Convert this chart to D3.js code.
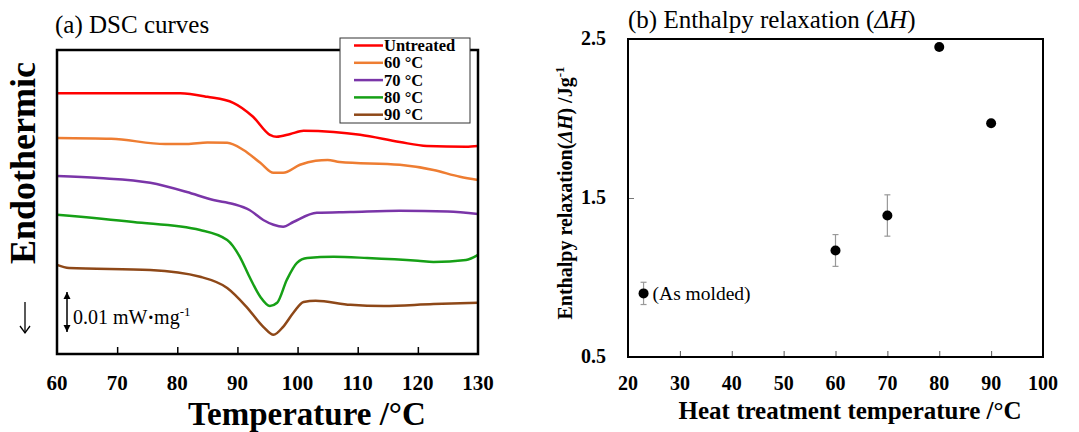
<!DOCTYPE html>
<html>
<head>
<meta charset="utf-8">
<script src="https://cdn.jsdelivr.net/npm/d3@7"></script>
<style>
  body { margin: 0; background: #fff; }
  svg { font-family: 'Liberation Serif', 'DejaVu Serif', serif; }
</style>
</head>
<body>
<svg id="chart" width="1079" height="432"></svg>
<script>
// ---- data: (a) DSC curves, heat flow in 10^-3 mW/mg (offset per curve)
let dscTemps = {
  untreated: [60, 80.5, 85, 89.3, 92.6, 95.4, 96.5, 98.8, 101, 106, 110.4, 117, 121.5, 128, 130],
  t60: [60, 69, 78, 81.6, 85, 88.3, 91, 93.8, 96, 97.6, 100.4, 103, 105, 107, 117, 122.6, 127, 130],
  t70: [60, 67, 75.5, 81.6, 86, 89.3, 92, 94.3, 96, 97.6, 99.3, 103.2, 108.8, 117, 125, 130],
  t80: [60, 72.7, 83.8, 88.3, 90.4, 92, 93.8, 95.4, 96.6, 98.2, 99.9, 101.6, 106, 111.6, 120, 122.6, 128, 130],
  t90: [60, 62, 75.5, 83.8, 88.3, 91.5, 94.3, 96, 97.6, 99.3, 101, 103, 108.8, 114.3, 122.6, 130]
}
let dscFlow = {
  untreated: [65.2, 65.2, 64.3, 62.8, 59.3, 54.8, 54.3, 55.0, 55.8, 55.5, 54.8, 53.0, 52.0, 51.8, 52.0],
  t60: [54.0, 53.8, 52.5, 52.5, 52.9, 52.8, 51.0, 47.8, 45.3, 45.3, 47.3, 48.3, 48.5, 48.0, 47.3, 46.0, 44.3, 43.5],
  t70: [44.5, 44.0, 42.8, 40.5, 38.5, 37.5, 36.0, 33.5, 32.3, 31.8, 33.0, 35.3, 35.5, 35.8, 35.6, 35.0],
  t80: [34.8, 33.0, 31.0, 28.5, 24.3, 19.3, 14.3, 12.0, 12.8, 18.5, 22.8, 24.0, 24.3, 24.0, 23.3, 23.0, 23.5, 24.8],
  t90: [22.3, 21.5, 21.0, 19.3, 16.5, 11.8, 6.8, 4.8, 6.8, 10.3, 13.0, 13.3, 12.3, 12.0, 12.5, 12.8]
}
let seriesKeys = ['untreated', 't60', 't70', 't80', 't90']
let seriesNames = ['Untreated', '60 °C', '70 °C', '80 °C', '90 °C']
let seriesColors = ['#ff0000', '#ee7d32', '#7a35a8', '#16a016', '#8e4818']
let dscTicks = [60, 70, 80, 90, 100, 110, 120, 130]

// ---- data: (b) enthalpy relaxation
let heatTemps = [23, 60, 70, 80, 90]
let deltaH = [0.90, 1.17, 1.39, 2.45, 1.97]
let deltaHErr = [0.07, 0.10, 0.13, 0, 0]
let bTicksX = [20, 30, 40, 50, 60, 70, 80, 90, 100]
let bTicksY = [0.5, 1.5, 2.5]

let svg = d3.select('#chart')

//----------------- panel (a)
let a = { left: 57, right: 478, top: 50, bottom: 354 }
let xA = d3.scaleLinear().domain([60, 130]).range([a.left, a.right])
// 0.01 mW/mg = 40 px
let yA = d3.scaleLinear().domain([0, 76]).range([a.bottom, a.top])

let lineA = d3.line()
  .x(d => xA(d[0]))
  .y(d => yA(d[1]))
  .curve(d3.curveMonotoneX)

seriesKeys.forEach((k, i) => {
  let pts = dscTemps[k].map((t, j) => [t, dscFlow[k][j]])
  svg.append('path')
    .attr('d', lineA(pts))
    .attr('fill', 'none')
    .attr('stroke', seriesColors[i])
    .attr('stroke-width', 2.5)
})

// axis with inward ticks
let axA = svg.append('g')
  .attr('transform', 'translate(0,' + a.bottom + ')')
  .call(d3.axisTop(xA).tickValues(dscTicks.slice(1, -1)).tickSize(7).tickFormat(''))
axA.select('.domain').remove()
axA.selectAll('line').attr('stroke', '#000').attr('stroke-width', 1.5)

svg.append('g')
  .selectAll('text')
  .data(dscTicks)
  .join('text')
  .attr('x', d => xA(d))
  .attr('y', a.bottom + 36)
  .attr('text-anchor', 'middle')
  .attr('font-size', 21)
  .attr('font-weight', 'bold')
  .text(d => d)

svg.append('rect')
  .attr('x', a.left).attr('y', a.top)
  .attr('width', a.right - a.left).attr('height', a.bottom - a.top)
  .attr('fill', 'none').attr('stroke', '#000').attr('stroke-width', 2.5)

svg.append('text')
  .attr('x', 307)
  .attr('y', 425)
  .attr('text-anchor', 'middle')
  .attr('font-size', 33)
  .attr('font-weight', 'bold')
  .text('Temperature /°C')

svg.append('text')
  .attr('x', 55)
  .attr('y', 33)
  .attr('font-size', 25)
  .text('(a) DSC curves')

svg.append('text')
  .attr('transform', 'translate(35,163) rotate(-90)')
  .attr('text-anchor', 'middle')
  .attr('font-size', 36)
  .attr('font-weight', 'bold')
  .text('Endothermic')

// endothermic direction arrow
svg.append('line')
  .attr('x1', 25).attr('x2', 25).attr('y1', 302).attr('y2', 333)
  .attr('stroke', '#000').attr('stroke-width', 1.3)
svg.append('path')
  .attr('d', 'M20,326L25,333L30,326')
  .attr('fill', 'none').attr('stroke', '#000').attr('stroke-width', 1.3)

// scale bar 0.01 mW/mg
let barX = 67
svg.append('line')
  .attr('x1', barX).attr('x2', barX)
  .attr('y1', yA(15.5)).attr('y2', yA(5.5))
  .attr('stroke', '#000').attr('stroke-width', 1.5)
svg.append('path')
  .attr('d', `M${barX - 3.5},${yA(15.5) + 7}L${barX},${yA(15.5)}L${barX + 3.5},${yA(15.5) + 7}Z`)
  .attr('fill', '#000')
svg.append('path')
  .attr('d', `M${barX - 3.5},${yA(5.5) - 7}L${barX},${yA(5.5)}L${barX + 3.5},${yA(5.5) - 7}Z`)
  .attr('fill', '#000')
let sb = svg.append('text')
  .attr('x', 73).attr('y', 324)
  .attr('font-size', 20)
sb.append('tspan').text('0.01 mW')
sb.append('tspan').attr('font-weight', 'bold').text('·')
sb.append('tspan').text('mg')
sb.append('tspan').attr('dy', -8).attr('font-size', 13).text('-1')

// legend
let lg = svg.append('g')
lg.append('rect')
  .attr('x', 340).attr('y', 38).attr('width', 130).attr('height', 85)
  .attr('fill', '#fff').attr('stroke', '#333').attr('stroke-width', 1)
seriesNames.forEach((n, i) => {
  let yy = 45.5 + i * 17.3
  lg.append('line')
    .attr('x1', 354).attr('x2', 383).attr('y1', yy).attr('y2', yy)
    .attr('stroke', seriesColors[i]).attr('stroke-width', 2.5)
  lg.append('text')
    .attr('x', 384).attr('y', yy + 5.5)
    .attr('font-size', 16.5).attr('font-weight', 'bold')
    .text(n)
})

//----------------- panel (b)
let b = { left: 628, right: 1043, top: 39, bottom: 357 }
let xB = d3.scaleLinear().domain([20, 100]).range([b.left, b.right])
let yB = d3.scaleLinear().domain([0.5, 2.5]).range([b.bottom, b.top])

let axBx = svg.append('g')
  .attr('transform', 'translate(0,' + b.bottom + ')')
  .call(d3.axisTop(xB).tickValues(bTicksX.slice(1, -1)).tickSize(6).tickFormat(''))
axBx.select('.domain').remove()
axBx.selectAll('line').attr('stroke', '#555').attr('stroke-width', 1)

let axBy = svg.append('g')
  .attr('transform', 'translate(' + b.left + ',0)')
  .call(d3.axisRight(yB).tickValues([1.5]).tickSize(6).tickFormat(''))
axBy.select('.domain').remove()
axBy.selectAll('line').attr('stroke', '#777').attr('stroke-width', 1)

svg.append('g')
  .selectAll('text')
  .data(bTicksX)
  .join('text')
  .attr('x', d => xB(d))
  .attr('y', b.bottom + 33)
  .attr('text-anchor', 'middle')
  .attr('font-size', 20)
  .attr('font-weight', 'bold')
  .text(d => d)

svg.append('g')
  .selectAll('text')
  .data(bTicksY)
  .join('text')
  .attr('x', 606)
  .attr('y', d => yB(d) + 6)
  .attr('text-anchor', 'end')
  .attr('font-size', 20)
  .attr('font-weight', 'bold')
  .text(d => d.toFixed(1))

svg.append('rect')
  .attr('x', b.left).attr('y', b.top)
  .attr('width', b.right - b.left).attr('height', b.bottom - b.top)
  .attr('fill', 'none').attr('stroke', '#000').attr('stroke-width', 2)

// error bars
let eb = svg.append('g').attr('stroke', '#999').attr('stroke-width', 1.2)
heatTemps.forEach((t, i) => {
  if (!deltaHErr[i]) return
  let x = xB(t)
  let y1 = yB(deltaH[i] + deltaHErr[i])
  let y2 = yB(deltaH[i] - deltaHErr[i])
  eb.append('line').attr('x1', x).attr('x2', x).attr('y1', y1).attr('y2', y2)
  eb.append('line').attr('x1', x - 3).attr('x2', x + 3).attr('y1', y1).attr('y2', y1)
  eb.append('line').attr('x1', x - 3).attr('x2', x + 3).attr('y1', y2).attr('y2', y2)
})

svg.append('g')
  .selectAll('circle')
  .data(heatTemps)
  .join('circle')
  .attr('cx', d => xB(d))
  .attr('cy', (d, i) => yB(deltaH[i]))
  .attr('r', 5)
  .attr('fill', '#000')

svg.append('text')
  .attr('x', xB(heatTemps[0]) + 9)
  .attr('y', yB(deltaH[0]) + 6.5)
  .attr('font-size', 19.5)
  .text('(As molded)')

svg.append('text')
  .attr('x', 850)
  .attr('y', 419)
  .attr('text-anchor', 'middle')
  .attr('font-size', 25)
  .attr('font-weight', 'bold')
  .text('Heat treatment temperature /°C')

let yt = svg.append('text')
  .attr('transform', 'translate(572,193) rotate(-90)')
  .attr('text-anchor', 'middle')
  .attr('font-size', 20)
  .attr('font-weight', 'bold')
yt.append('tspan').text('Enthalpy relaxation(')
yt.append('tspan').attr('font-style', 'italic').text('ΔH')
yt.append('tspan').text(') /Jg')
yt.append('tspan').attr('dy', -8).attr('font-size', 13).text('-1')

let tb = svg.append('text')
  .attr('x', 628)
  .attr('y', 28)
  .attr('font-size', 25)
tb.append('tspan').text('(b) Enthalpy relaxation (')
tb.append('tspan').attr('font-style', 'italic').text('ΔH')
tb.append('tspan').text(')')
</script>
</body>
</html>
